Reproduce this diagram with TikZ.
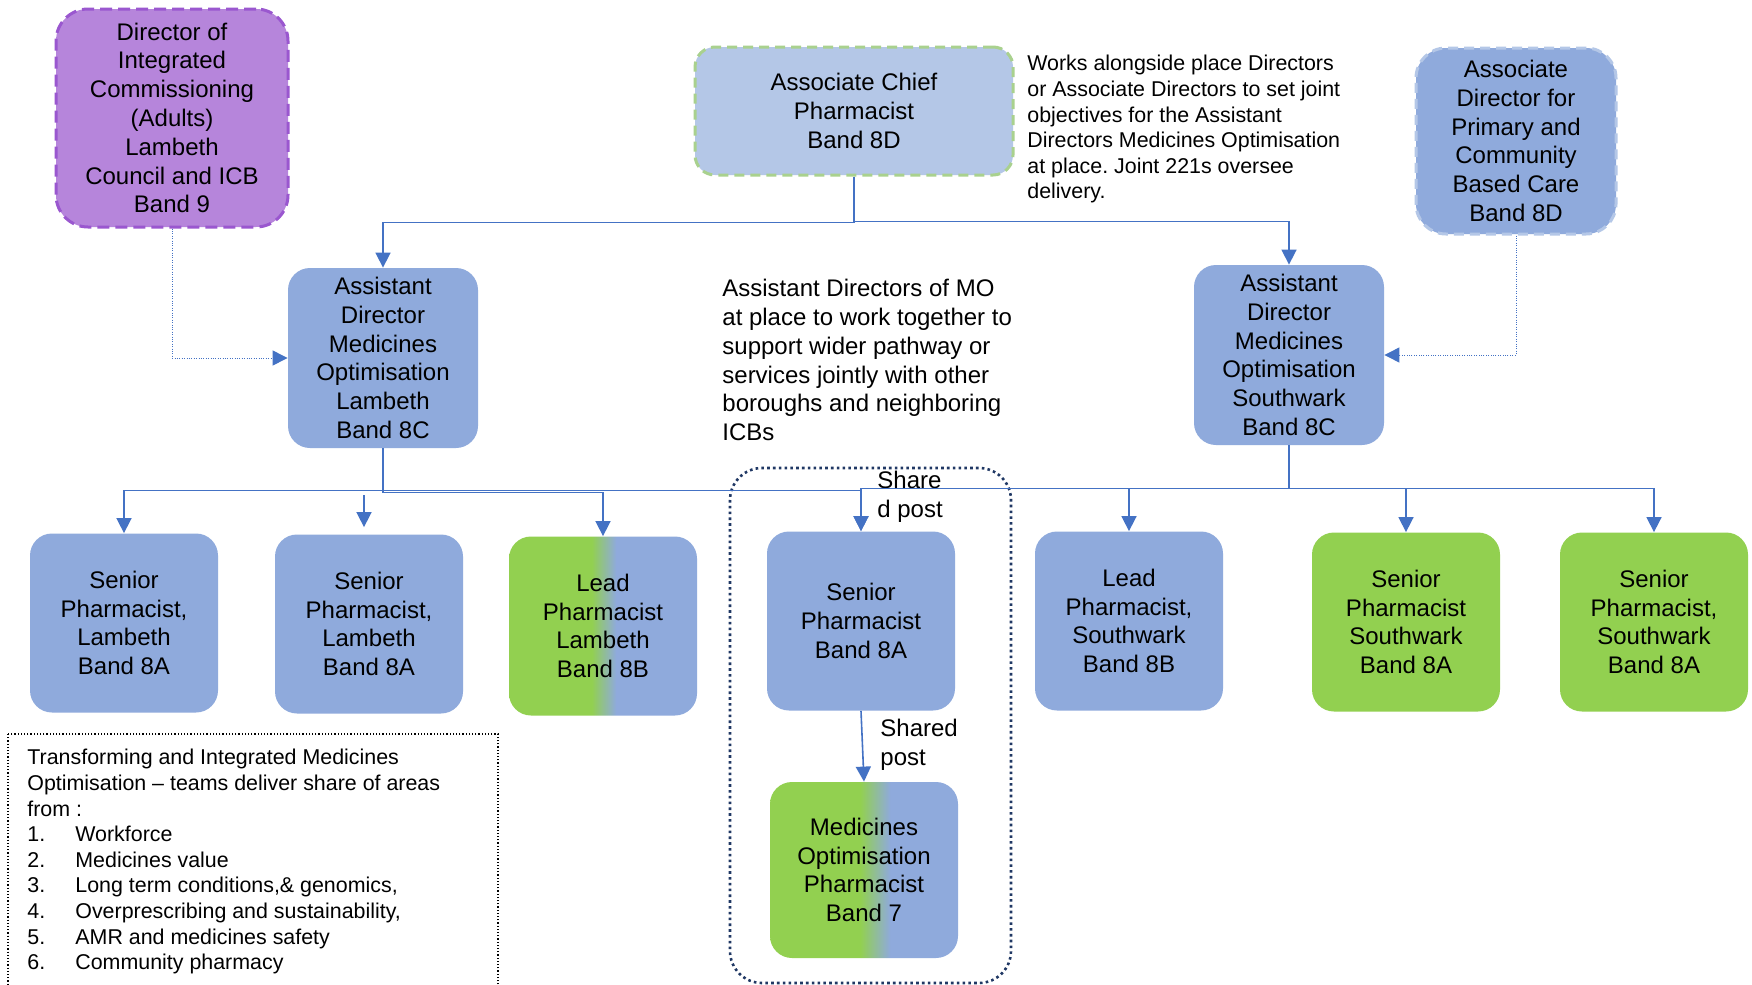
\documentclass[tikz,border=0pt]{standalone}
\usepackage{fontspec}
\setmainfont{Liberation Sans}
\usepackage{xcolor}
\usetikzlibrary{arrows.meta,positioning,calc}
\frenchspacing
\definecolor{postblue}{HTML}{8FAADC}
\definecolor{paleblue}{HTML}{B4C7E7}
\definecolor{postgreen}{HTML}{92D050}
\definecolor{palegreen}{HTML}{A9D18E}
\definecolor{postviolet}{HTML}{B685DB}
\definecolor{violetline}{HTML}{9A57CF}
\definecolor{linkblue}{HTML}{4472C4}
\definecolor{groupnavy}{HTML}{203864}
\pgfdeclarehorizontalshading{leadsplit}{100bp}{color(0bp)=(postgreen); color(47bp)=(postgreen); color(53.5bp)=(postblue); color(100bp)=(postblue)}
\pgfdeclarehorizontalshading{mosplit}{100bp}{color(0bp)=(postgreen); color(49bp)=(postgreen); color(57bp)=(postblue); color(100bp)=(postblue)}
\newcommand\boxfont{\fontsize{12}{14.4}\selectfont}
\newcommand\notefont{\fontsize{10.7}{12.8}\selectfont}
\tikzset{
  postbox/.style={
    rounded corners=11pt,
    align=center,
    font=\boxfont,
    minimum width=94pt,
    minimum height=89.5pt,
    inner sep=2pt
  },
  bluebox/.style={postbox, fill=postblue},
  greenbox/.style={postbox, fill=postgreen},
  leadbox/.style={postbox, shade, shading=leadsplit},
  mobox/.style={postbox, shade, shading=mosplit},
  dirbox/.style={postbox, fill=postviolet, draw=violetline, line width=1.5pt,
    dash pattern=on 6pt off 3pt, rounded corners=16pt},
  chiefbox/.style={postbox, fill=paleblue, draw=palegreen, line width=1.5pt,
    dash pattern=on 5pt off 3pt, rounded corners=10pt},
  primarybox/.style={postbox, fill=postblue, draw=paleblue, line width=1.5pt,
    dash pattern=on 5pt off 3pt, rounded corners=15pt},
  note/.style={anchor=north west, align=left, inner sep=0pt},
  arrow/.style={-{Triangle[length=7.5pt,width=7.5pt]}, line width=0.8pt, draw=linkblue},
  dotarrow/.style={arrow, line width=0.5pt, dash pattern=on 0.5pt off 0.7pt},
  group/.style={rounded corners=16pt, draw=groupnavy, line width=1.3pt, dash pattern=on 1.3pt off 1.6pt}
}
\begin{document}
\begin{tikzpicture}[x=0.5pt,y=-0.5pt]
  \useasboundingbox (0,0) rectangle (1752,985);
  \fill[white] (0,0) rectangle (1752,985);

  % shared post group
  \draw[group] (730,468) rectangle (1011,983);

  % top row
  \node[dirbox, minimum width=116pt, minimum height=109pt] (dirint) at (172,118)
    {Director of\\Integrated\\Commissioning\\(Adults)\\Lambeth\\Council and ICB\\Band 9};
  \node[chiefbox, minimum width=159pt, minimum height=64pt] (chief) at (854,111)
    {Associate Chief\\Pharmacist\\Band 8D};
  \node[note, font=\notefont] (chiefnote) at (1027,55)
    {Works alongside place Directors\\or Associate Directors to set joint\\objectives for the Assistant\\Directors Medicines Optimisation\\at place. Joint 221s oversee\\delivery.};
  \node[primarybox, minimum width=100pt, minimum height=93pt] (primary) at (1516,141)
    {Associate\\Director for\\Primary and\\Community\\Based Care\\Band 8D};

  % assistant directors
  \node[bluebox, minimum width=95pt, minimum height=90pt] (adlam) at (383,358)
    {Assistant\\Director\\Medicines\\Optimisation\\Lambeth\\Band 8C};
  \node[bluebox, minimum width=95pt, minimum height=90pt] (adsth) at (1289,355)
    {Assistant\\Director\\Medicines\\Optimisation\\Southwark\\Band 8C};
  \node[note, font=\boxfont] (jointnote) at (722,279)
    {Assistant Directors of MO\\at place to work together to\\support wider pathway or\\services jointly with other\\boroughs and neighboring\\ICBs};

  % pharmacists
  \node[bluebox] (senlam1) at (124,623) {Senior\\Pharmacist,\\Lambeth\\Band 8A};
  \node[bluebox] (senlam2) at (369,624) {Senior\\Pharmacist,\\Lambeth\\Band 8A};
  \node[leadbox] (leadlam) at (603,626) {Lead\\Pharmacist\\Lambeth\\Band 8B};
  \node[bluebox] (senshared) at (861,621) {Senior\\Pharmacist\\Band 8A};
  \node[bluebox] (leadsth) at (1129,621) {Lead\\Pharmacist,\\Southwark\\Band 8B};
  \node[greenbox] (sensth1) at (1406,622) {Senior\\Pharmacist\\Southwark\\Band 8A};
  \node[greenbox] (sensth2) at (1654,622) {Senior\\Pharmacist,\\Southwark\\Band 8A};
  \node[mobox, minimum height=88pt] (mopharm) at (864,870) {Medicines\\Optimisation\\Pharmacist\\Band 7};

  % post labels
  \node[note, font=\boxfont] (sharetop) at (877,471) {Share\\d post};
  \node[note, font=\boxfont] (sharelow) at (880,719) {Shared\\post};

  % areas list
  \draw[dash pattern=on 0.6pt off 1pt, line width=0.6pt] (8,734) rectangle (498,995);
  \node[note, font=\notefont] (areas) at (27,749)
    {Transforming and Integrated Medicines\\
     Optimisation -- teams deliver share of areas\\
     from :\\
     \makebox[24pt][l]{1.}Workforce\\
     \makebox[24pt][l]{2.}Medicines value\\
     \makebox[24pt][l]{3.}Long term conditions,\& genomics,\\
     \makebox[24pt][l]{4.}Overprescribing and sustainability,\\
     \makebox[24pt][l]{5.}AMR and medicines safety\\
     \makebox[24pt][l]{6.}Community pharmacy};

  % arrows
  \coordinate (senlam2top) at (364,495);
  \draw[arrow] (chief.south) -- ++(0,46) -| (adlam.north);
  \draw[arrow] (chief.south) -- ++(0,45) -| (adsth.north);
  \draw[dotarrow] (dirint.south) |- (adlam.west);
  \draw[dotarrow] (primary.south) |- (adsth.east);
  \draw[arrow] (adlam.south) -- ++(0,42) -| (senlam1.north);
  \draw[arrow] (adlam.south) -- ++(0,44) -| (leadlam.north);
  \draw[arrow] (adlam.south) -- ++(0,42) -| (senshared.north);
  \draw[arrow] (senlam2top) -- ([xshift=-2.5pt,yshift=3.5pt]senlam2.north);
  \draw[arrow] (adsth.south) -- ++(0,43) -| (senshared.north);
  \draw[arrow] (adsth.south) -- ++(0,43) -| (leadsth.north);
  \draw[arrow] (adsth.south) -- ++(0,43) -| (sensth1.north);
  \draw[arrow] (adsth.south) -- ++(0,43) -| (sensth2.north);
  \draw[arrow] (senshared.south) -- (mopharm.north);
\end{tikzpicture}
\end{document}
